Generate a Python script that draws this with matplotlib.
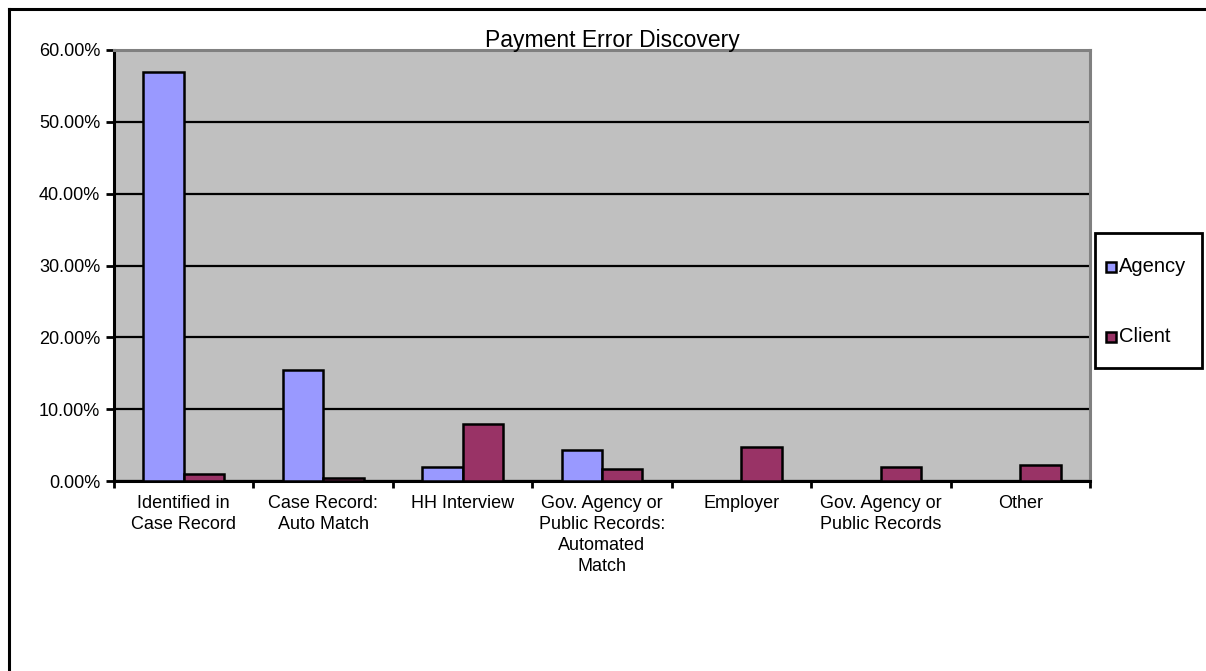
import matplotlib
matplotlib.use("Agg")
import matplotlib.pyplot as plt
from matplotlib.patches import Rectangle
from matplotlib.lines import Line2D
from matplotlib.ticker import PercentFormatter
import numpy as np

plt.rcParams['font.family'] = ['Liberation Sans', 'DejaVu Sans']

categories = [
    "Identified in\nCase Record",
    "Case Record:\nAuto Match",
    "HH Interview",
    "Gov. Agency or\nPublic Records:\nAutomated\nMatch",
    "Employer",
    "Gov. Agency or\nPublic Records",
    "Other",
]
agency = [0.570, 0.155, 0.019, 0.043, 0.0, 0.0, 0.0]
client = [0.010, 0.004, 0.079, 0.017, 0.048, 0.019, 0.022]
series_names = ["Agency", "Client"]
series_colors = ["#9999FF", "#993366"]
y_ticks = [0.0, 0.1, 0.2, 0.3, 0.4, 0.5, 0.6]
title = "Payment Error Discovery"

W, H = 1206, 671
fig = plt.figure(figsize=(W / 100, H / 100), dpi=100)
fig.patch.set_facecolor("white")


def fx(px):
    return px / W


def fy(py):
    return 1 - py / H


ax = fig.add_axes([fx(114), fy(481), (1090 - 114) / W, (481 - 50) / H])
ax.set_facecolor("#C0C0C0")

x = np.arange(len(categories))
bw = 0.29
for vals, off, col in [(agency, -bw / 2, series_colors[0]), (client, bw / 2, series_colors[1])]:
    ax.bar(x + off, vals, width=bw, color=col, edgecolor="black", linewidth=1.8, zorder=3)

ax.set_ylim(0, 0.6)
ax.set_xlim(-0.5, len(categories) - 0.5)
ax.set_yticks(y_ticks)
ax.yaxis.set_major_formatter(PercentFormatter(1.0, decimals=2))
ax.grid(axis="y", color="black", linewidth=1.6, zorder=1)
ax.set_axisbelow(True)

ax.set_xticks(x)
ax.set_xticklabels(categories, fontsize=13, linespacing=1.32)
ax.set_xticks(np.arange(len(categories) + 1) - 0.5, minor=True)
ax.tick_params(axis="x", which="major", length=0, pad=10)
ax.tick_params(axis="x", which="minor", length=5, width=2, direction="out")
ax.tick_params(axis="y", length=6, width=2, direction="out", labelsize=13, pad=4)

for s in ["left", "bottom"]:
    ax.spines[s].set_color("black")
    ax.spines[s].set_linewidth(2.2)
for s in ["top", "right"]:
    ax.spines[s].set_color("#808080")
    ax.spines[s].set_linewidth(2.2)

fig.text(fx(612), fy(47), title, ha="center", va="baseline", fontsize=16.5)

# legend box with series keys
fig.add_artist(Rectangle((fx(1095), fy(368)), (1202 - 1095) / W, (368 - 233) / H,
                         transform=fig.transFigure, facecolor="white",
                         edgecolor="black", linewidth=2.0))
for name, col, cy in zip(series_names, series_colors, [267, 337]):
    fig.add_artist(Rectangle((fx(1106), fy(cy + 5)), 10 / W, 10 / H,
                             transform=fig.transFigure, facecolor=col,
                             edgecolor="black", linewidth=1.8))
    fig.text(fx(1119), fy(cy), name, ha="left", va="center", fontsize=14.5)

# outer chart border
fig.add_artist(Line2D([fx(9), 1], [fy(9), fy(9)], color="black", linewidth=2.2,
                      transform=fig.transFigure))
fig.add_artist(Line2D([fx(9), fx(9)], [0, fy(9)], color="black", linewidth=2.2,
                      transform=fig.transFigure))

fig.savefig("out.png", dpi=100)
